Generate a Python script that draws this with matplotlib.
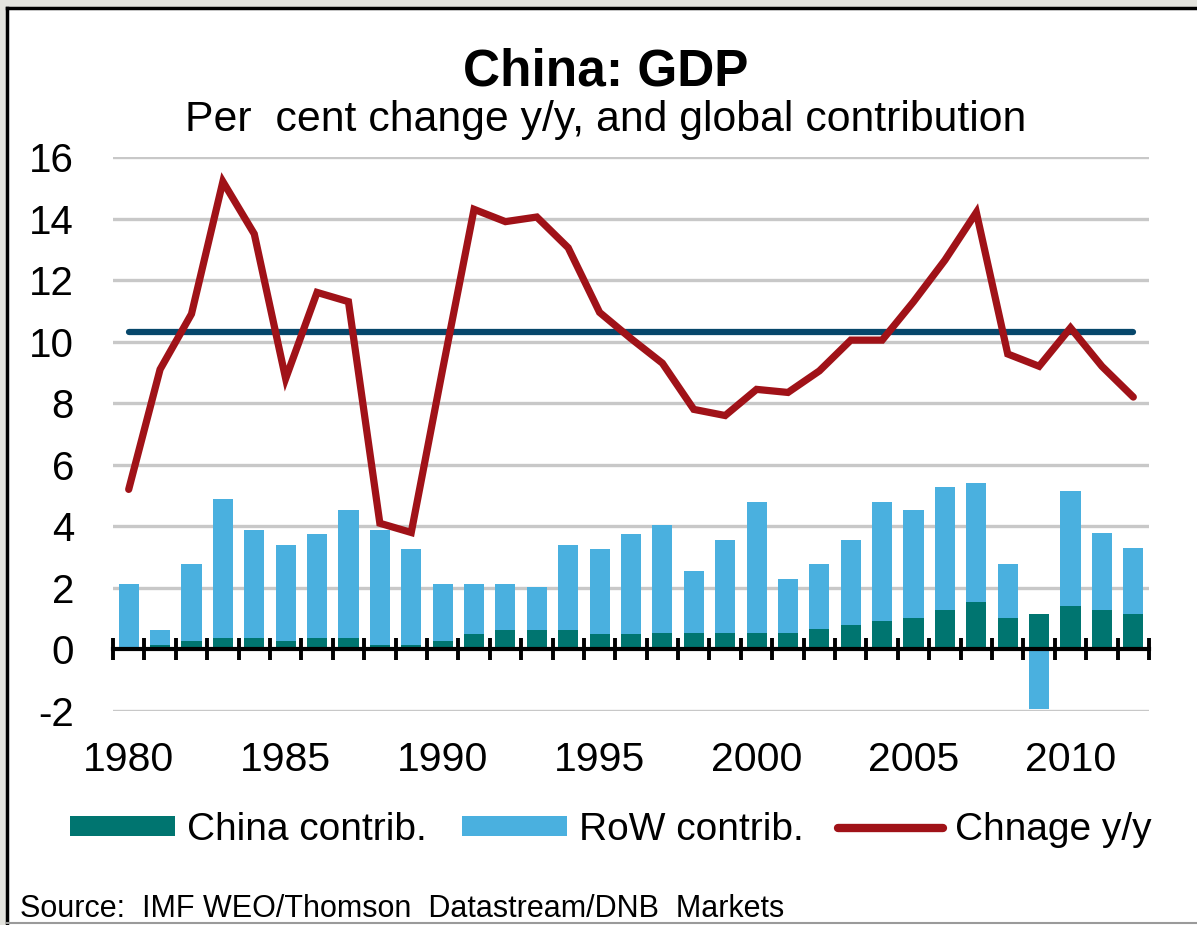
import matplotlib

matplotlib.use("Agg")
import matplotlib.pyplot as plt  # noqa: E402
import numpy as np  # noqa: E402
from matplotlib.lines import Line2D  # noqa: E402
from matplotlib.patches import Patch, Rectangle  # noqa: E402

plt.rcParams["font.family"] = ["Liberation Sans", "DejaVu Sans"]

# data
years = list(range(1980, 2013))
change_yy = [5.2, 9.1, 10.9, 15.2, 13.5, 8.8, 11.6, 11.3, 4.1, 3.8,
             9.1, 14.3, 13.9, 14.05, 13.05, 10.95, 10.1, 9.3, 7.8, 7.6,
             8.45, 8.35, 9.05, 10.05, 10.05, 11.3, 12.65, 14.2, 9.6, 9.2,
             10.45, 9.2, 8.2]
china_contrib = [0.02, 0.14, 0.26, 0.37, 0.37, 0.26, 0.37, 0.37, 0.14, 0.14,
                 0.26, 0.51, 0.63, 0.63, 0.63, 0.51, 0.51, 0.53, 0.53, 0.53,
                 0.53, 0.53, 0.65, 0.78, 0.91, 1.03, 1.27, 1.53, 1.03, 1.16,
                 1.41, 1.27, 1.16]
row_contrib = [2.12, 0.50, 2.51, 4.52, 3.52, 3.13, 3.39, 4.15, 3.75, 3.12,
               1.88, 1.63, 1.51, 1.39, 2.76, 2.75, 3.25, 3.50, 2.01, 3.01,
               4.25, 1.76, 2.14, 2.76, 3.87, 3.50, 4.01, 3.88, 1.76, -1.93,
               3.75, 2.52, 2.13]
avg_growth = 10.3
yticks = list(range(-2, 17, 2))
year_labels = [1980, 1985, 1990, 1995, 2000, 2005, 2010]

TEAL = "#007570"
SKY = "#4AB0DF"
RED = "#A01218"
NAVY = "#07476B"
GRID = "#C8C8C8"

W, H = 1197, 925
fig = plt.figure(figsize=(W / 100, H / 100), dpi=100)
fig.patch.set_facecolor("#E3E3DD")
fig.patches.append(Rectangle((8 / W, 0), 1, 1 - 8 / H, transform=fig.transFigure,
                             facecolor="white", edgecolor="none", zorder=-5))
fig.add_artist(Line2D([7 / W, 7 / W], [0, 1 - 8 / H], color="black", lw=2.5,
                      transform=fig.transFigure, zorder=-4))
fig.add_artist(Line2D([7 / W, 1], [1 - 8 / H, 1 - 8 / H], color="black", lw=2.5,
                      transform=fig.transFigure, zorder=-4))
fig.add_artist(Line2D([7 / W, 1], [2 / H, 2 / H], color="#9A9A9A", lw=1.5,
                      transform=fig.transFigure, zorder=-4))

ax = fig.add_axes([113 / W, 1 - 711 / H, (1149 - 113) / W, (711 - 157) / H])
ax.set_facecolor("none")
ax.set_zorder(1)

x = np.arange(len(years))
china = np.array(china_contrib)
row = np.array(row_contrib)
row_bottom = np.where(row >= 0, china, 0.0)

for v in yticks:
    if v != 0:
        ax.axhline(v, color=GRID, lw=2.4, zorder=0)

ax.bar(x, china, width=0.64, color=TEAL, edgecolor="none", zorder=2)
ax.bar(x, row, width=0.64, bottom=row_bottom, color=SKY, edgecolor="none", zorder=2)
ax.hlines(avg_growth, x[0], x[-1], color=NAVY, lw=4.5, capstyle="round", zorder=3)
ax.plot(x, change_yy, color=RED, lw=5.2, solid_capstyle="round",
        solid_joinstyle="miter", zorder=4)

ax.set_xlim(-0.5, len(years) - 0.5)
ax.set_ylim(-2, 16)
for side in ("left", "right", "top"):
    ax.spines[side].set_visible(False)
ax.spines["bottom"].set_position(("data", 0))
ax.spines["bottom"].set_linewidth(3)
ax.spines["bottom"].set_zorder(5)

ax.set_xticks(np.arange(-0.5, len(years)), labels=[])
ax.tick_params(axis="x", which="major", direction="inout", length=16, width=2.8)
ax.set_xticks([years.index(y) for y in year_labels], labels=[str(y) for y in year_labels],
              minor=True)
ax.tick_params(axis="x", which="minor", length=0, pad=66, labelsize=29.5)

ax.set_yticks(yticks, labels=[str(v) for v in yticks])
ax.tick_params(axis="y", length=0, pad=28, labelsize=29)

fig.text(606 / W, 1 - 85 / H, "China: GDP", ha="center", va="baseline",
         fontsize=37, fontweight="bold")
fig.text(606 / W, 1 - 131 / H, "Per  cent change y/y, and global contribution",
         ha="center", va="baseline", fontsize=30.8)

handles = [Patch(facecolor=TEAL, edgecolor="none"),
           Patch(facecolor=SKY, edgecolor="none"),
           Line2D([], [], color=RED, lw=6, solid_capstyle="round")]
fig.legend(handles, ["China contrib.", "RoW contrib.", "Chnage y/y"],
           loc="center", bbox_to_anchor=(611 / W, 1 - 830 / H), ncol=3,
           frameon=False, fontsize=28, handlelength=2.7, handleheight=0.4,
           handletextpad=0.3, columnspacing=0.9)

fig.text(20 / W, 8 / H, "Source:  IMF WEO/Thomson  Datastream/DNB  Markets",
         ha="left", va="baseline", fontsize=22)

fig.savefig("out.png", dpi=100)
